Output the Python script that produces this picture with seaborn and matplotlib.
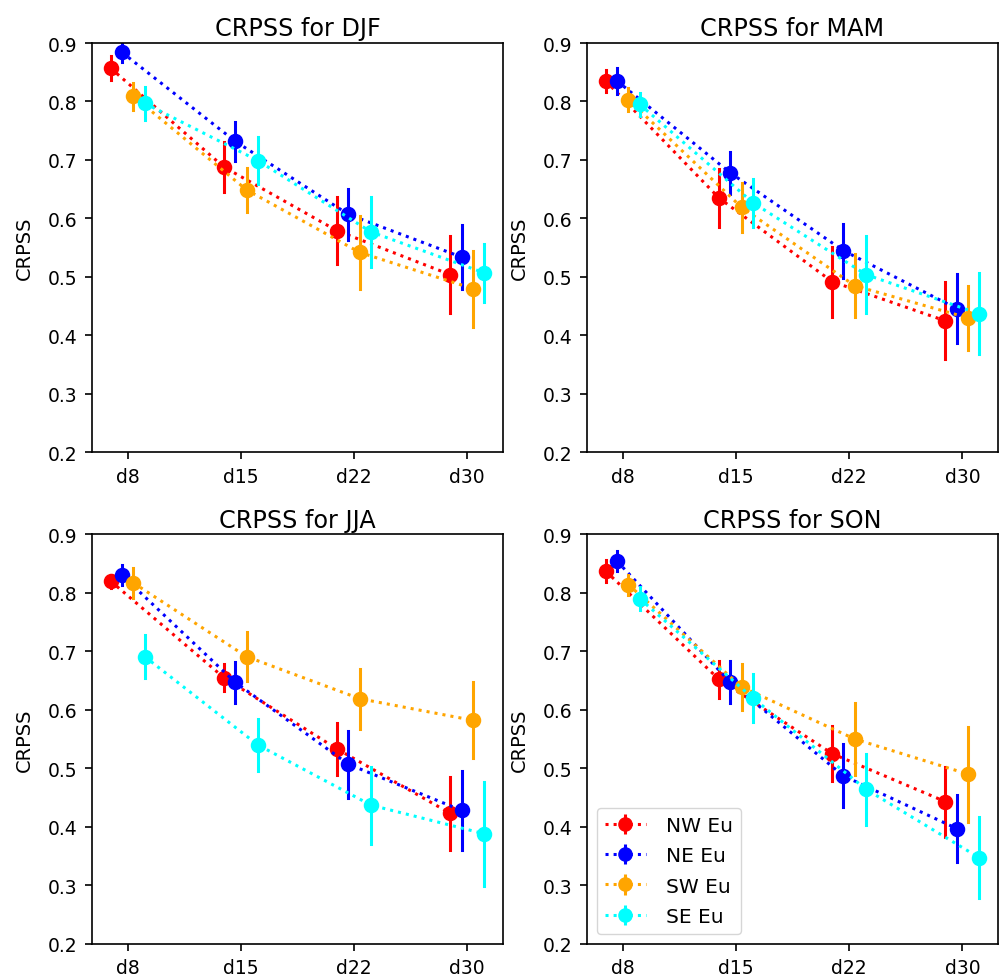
import numpy as np
import pandas as pd
import seaborn as sns
import matplotlib.pyplot as plt

# lead times and regions
leads = ['d8', 'd15', 'd22', 'd30']
regions = ['NW Eu', 'NE Eu', 'SW Eu', 'SE Eu']
colors = ['red', 'blue', 'orange', 'cyan']

# CRPSS per region (rows: NW, NE, SW, SE), columns = leads
djf_crpss = [[0.857, 0.688, 0.579, 0.504],
             [0.884, 0.732, 0.607, 0.534],
             [0.809, 0.649, 0.542, 0.480],
             [0.797, 0.699, 0.577, 0.507]]
djf_err = [[0.020, 0.043, 0.057, 0.066],
           [0.016, 0.033, 0.043, 0.054],
           [0.023, 0.038, 0.062, 0.065],
           [0.028, 0.040, 0.060, 0.050]]

mam_crpss = [[0.835, 0.635, 0.492, 0.425],
             [0.835, 0.678, 0.545, 0.446],
             [0.803, 0.619, 0.485, 0.430],
             [0.795, 0.627, 0.504, 0.437]]
mam_err = [[0.019, 0.049, 0.060, 0.066],
           [0.022, 0.036, 0.046, 0.059],
           [0.020, 0.042, 0.054, 0.055],
           [0.020, 0.041, 0.066, 0.069]]

jja_crpss = [[0.820, 0.655, 0.533, 0.423],
             [0.830, 0.647, 0.507, 0.428],
             [0.817, 0.691, 0.619, 0.582],
             [0.691, 0.540, 0.437, 0.388]]
jja_err = [[0.011, 0.023, 0.045, 0.062],
           [0.017, 0.035, 0.057, 0.067],
           [0.026, 0.042, 0.051, 0.065],
           [0.037, 0.045, 0.066, 0.089]]

son_crpss = [[0.837, 0.652, 0.525, 0.443],
             [0.854, 0.647, 0.487, 0.397],
             [0.814, 0.639, 0.550, 0.490],
             [0.790, 0.620, 0.464, 0.347]]
son_err = [[0.019, 0.031, 0.047, 0.060],
           [0.017, 0.036, 0.054, 0.057],
           [0.017, 0.040, 0.061, 0.081],
           [0.020, 0.041, 0.061, 0.069]]

seasons = ['DJF', 'MAM', 'JJA', 'SON']
season_vals = [djf_crpss, mam_crpss, jja_crpss, son_crpss]
season_errs = [djf_err, mam_err, jja_err, son_err]


# long table: each point stored as (mean-err, mean+err) so that
# mean -> point and min/max interval -> error bar
def make_df(vals, errs):
    rows = []
    for r, reg in enumerate(regions):
        for l, lead in enumerate(leads):
            v, e = vals[r][l], errs[r][l]
            rows.append({'lead': lead, 'region': reg, 'CRPSS': v - e})
            rows.append({'lead': lead, 'region': reg, 'CRPSS': v + e})
    return pd.DataFrame(rows)


plt.rcParams['axes.linewidth'] = 1.2
plt.rcParams['xtick.major.size'] = 5
plt.rcParams['ytick.major.size'] = 5
plt.rcParams['xtick.major.width'] = 1.2
plt.rcParams['ytick.major.width'] = 1.2
plt.rcParams['xtick.major.pad'] = 5.5
plt.rcParams['ytick.major.pad'] = 5.5
plt.rcParams['font.family'] = ['DejaVu Sans']

fig, axs = plt.subplots(2, 2, figsize=(10, 9.78), dpi=100)
fig.subplots_adjust(left=0.092, right=0.998, top=0.955, bottom=0.034,
                    wspace=0.205, hspace=0.2)

for i, ax in enumerate(axs.flat):
    df = make_df(season_vals[i], season_errs[i])
    sns.pointplot(data=df, x='lead', y='CRPSS', hue='region',
                  order=leads, hue_order=regions, palette=colors,
                  estimator='mean', errorbar=('pi', 100), dodge=0.3,
                  linestyle=':', linewidth=2.2, markersize=9.5,
                  err_kws={'linestyle': '-', 'linewidth': 2.2},
                  legend=False, ax=ax)
    ax.set_ylim(0.2, 0.9)
    ax.set_xlim(-0.315, 3.315)
    ax.set_title('CRPSS for ' + seasons[i], fontsize=17.2, pad=5.5)
    ax.set_xlabel('')
    ax.set_ylabel('CRPSS', fontsize=14, labelpad=10)
    ax.tick_params(labelsize=13.5)
    for s in ax.spines.values():
        s.set_visible(True)

# legend with errorbar-style handles (empty dummies, nothing drawn)
ax = axs[1, 1]
handles = []
for reg, c in zip(regions, colors):
    h = ax.errorbar([np.nan], [np.nan], yerr=[0.02], fmt='o:', color=c,
                    markersize=9.5, linewidth=2.2, elinewidth=2.2)
    handles.append(h)
ax.legend(handles, regions, loc='lower left', fontsize=14.5,
          labelspacing=0.55, handletextpad=1.0)

plt.savefig('out.png', dpi=100)
